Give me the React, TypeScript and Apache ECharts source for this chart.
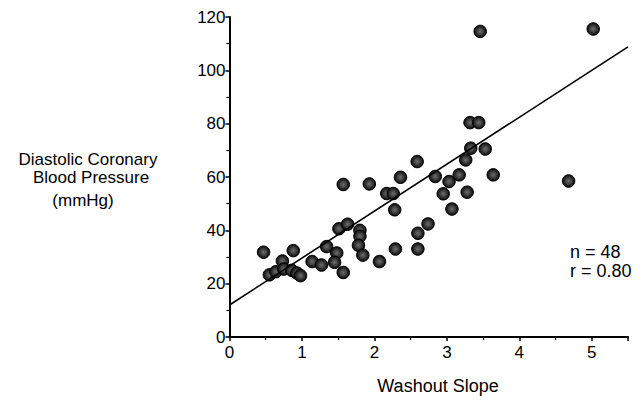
import React, { useEffect, useRef } from "react";
import * as echarts from "echarts";

const points: [number, number][] = [
  [0.47, 31.8], [0.55, 23.3], [0.64, 24.5], [0.73, 28.5], [0.75, 25.5],
  [0.88, 32.4], [0.86, 25.0], [0.93, 24.0], [0.98, 23.0], [1.14, 28.3],
  [1.27, 27.0], [1.34, 33.9], [1.48, 31.5], [1.45, 28.0], [1.57, 24.2],
  [1.57, 57.2], [1.51, 40.6], [1.63, 42.3], [1.80, 40.0], [1.80, 37.8],
  [1.78, 34.4], [1.84, 30.7], [1.93, 57.4], [2.07, 28.3], [2.17, 53.8],
  [2.26, 53.8], [2.28, 47.7], [2.29, 33.0], [2.36, 59.9], [2.59, 65.8],
  [2.60, 38.9], [2.60, 33.0], [2.74, 42.4], [2.84, 60.2], [2.95, 53.7],
  [3.03, 58.3], [3.07, 48.0], [3.17, 60.8], [3.26, 66.4], [3.28, 54.3],
  [3.33, 70.8], [3.32, 80.4], [3.44, 80.4], [3.46, 114.6], [3.53, 70.5],
  [3.64, 60.8], [4.68, 58.5], [5.02, 115.5],
];

const regressionLine: [number, number][] = [
  [0, 12],
  [5.5, 108.8],
];

const yTitleLines = ["Diastolic Coronary", "Blood Pressure", "(mmHg)"];
const xTitle = "Washout Slope";
const stats = ["n = 48", "r = 0.80"];

const FONT = "'Liberation Sans', Arial, Helvetica, sans-serif";

export default function App() {
  const ref = useRef<HTMLDivElement>(null);
  useEffect(() => {
    if (!ref.current) return;
    const chart = echarts.init(ref.current, null, { renderer: "svg" });
    const markerFill = new echarts.graphic.RadialGradient(0.5, 0.5, 0.5, [
      { offset: 0, color: "#6e6e6e" },
      { offset: 0.55, color: "#3a3a3a" },
      { offset: 1, color: "#0a0a0a" },
    ]);
    const txt = (text: string, x: number, y: number, align: string, size = 18) => ({
      type: "text",
      x,
      y,
      style: {
        text,
        fontSize: size,
        fontFamily: FONT,
        fill: "#000",
        textAlign: align,
        textVerticalAlign: "middle",
      },
    });
    chart.setOption({
      animation: false,
      backgroundColor: "#ffffff",
      grid: { left: 229.5, right: 14, top: 17, bottom: 68, containLabel: false },
      xAxis: {
        type: "value",
        min: 0,
        max: 5.5,
        interval: 1,
        axisLine: { show: true, onZero: false, lineStyle: { color: "#000", width: 2 } },
        axisTick: { show: true, length: 4, lineStyle: { color: "#000", width: 1.5 } },
        minorTick: { show: true, splitNumber: 2, length: 3, lineStyle: { color: "#000", width: 1.2 } },
        splitLine: { show: false },
        axisLabel: {
          color: "#000",
          fontSize: 17,
          fontFamily: FONT,
          margin: 7,
          showMaxLabel: false,
        },
      },
      yAxis: {
        type: "value",
        min: 0,
        max: 120,
        interval: 20,
        axisLine: { show: true, onZero: false, lineStyle: { color: "#000", width: 2 } },
        axisTick: { show: true, length: 4, lineStyle: { color: "#000", width: 1.5 } },
        minorTick: { show: true, splitNumber: 2, length: 3, lineStyle: { color: "#000", width: 1.2 } },
        splitLine: { show: false },
        axisLabel: { color: "#000", fontSize: 17, fontFamily: FONT, margin: 4 },
      },
      series: [
        {
          type: "scatter",
          data: points,
          symbol: "circle",
          symbolSize: 12.5,
          itemStyle: {
            color: markerFill,
            borderColor: "#000",
            borderWidth: 1,
            opacity: 1,
          },
          z: 2,
        },
        {
          type: "line",
          data: regressionLine,
          symbol: "none",
          lineStyle: { color: "#000", width: 1.6 },
          z: 3,
        },
      ],
      graphic: [
        txt(yTitleLines[0], 88, 159.5, "center", 17),
        txt(yTitleLines[1], 91, 177.5, "center", 17),
        txt(yTitleLines[2], 83, 200, "center", 17),
        txt(xTitle, 438, 386, "center"),
        txt(stats[0], 570, 252, "left"),
        txt(stats[1], 570, 271, "left"),
      ],
    });
    return () => chart.dispose();
  }, []);
  return <div ref={ref} style={{ width: 642, height: 405, margin: -8 }} />;
}
